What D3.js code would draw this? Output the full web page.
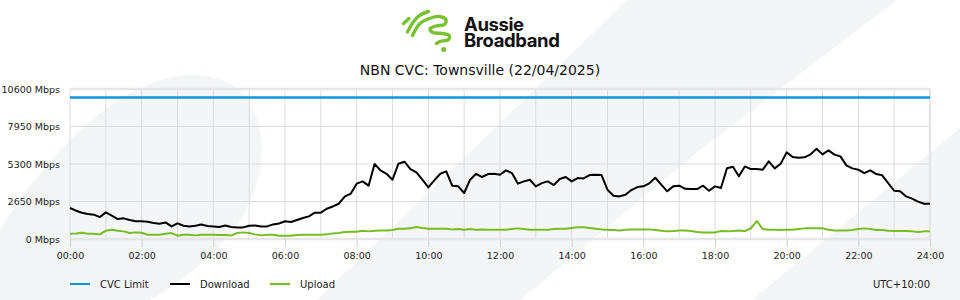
<!DOCTYPE html>
<html>
<head>
<meta charset="utf-8">
<script src="https://cdn.jsdelivr.net/npm/d3@7"></script>
<style>
  body { margin: 0; background: #fff; }
  svg { display: block; font-family: "DejaVu Sans", sans-serif; }
</style>
</head>
<body>
<svg id="chart"></svg>
<script>
// chart values (one point every 10 minutes, 00:00 -> 24:00)
const chartTitle = "NBN CVC: Townsville (22/04/2025)";
const brandLines = ["Aussie", "Broadband"];
const timezoneLabel = "UTC+10:00";
const stepMinutes = 10;
const cvcLimit = 10000;

const download = [
  2190, 2000, 1860, 1760, 1720, 1550, 1880, 1650, 1410, 1460, 1340, 1250, 1250, 1220, 1130, 1080, 1170, 890, 1100, 940,
  890, 940, 1030, 920, 890, 850, 960, 850, 820, 820, 940, 960, 890, 890, 1030, 1100, 1250, 1200, 1340, 1480,
  1600, 1860, 1860, 2140, 2300, 2490, 2990, 3200, 3910, 4070, 3770, 5300, 4850, 4610, 4190, 5320, 5460, 4940, 4710, 4190,
  3650, 4140, 4610, 4780, 3770, 3720, 3250, 4190, 4610, 4380, 4590, 4610, 4540, 4850, 4660, 3910, 4070, 4190, 3720, 3950,
  4070, 3810, 4240, 4380, 4070, 4310, 4280, 4520, 4540, 4520, 3480, 3060, 3010, 3130, 3460, 3670, 3720, 3930, 4330, 3840,
  3370, 3720, 3770, 3550, 3530, 3530, 3770, 3410, 3720, 3600, 5000, 5100, 4430, 5130, 4940, 4940, 4900, 5490, 4990, 5320,
  6120, 5790, 5750, 5770, 5980, 6380, 5980, 6260, 5960, 5840, 5200, 4990, 4900, 4660, 4850, 4590, 4500, 3950, 3410, 3370,
  3010, 2850, 2640, 2490, 2490
];

const upload = [
  374, 397, 445, 374, 374, 327, 586, 657, 586, 539, 421, 468, 445, 303, 303, 303, 374, 421, 233, 303,
  303, 256, 303, 303, 303, 280, 280, 256, 421, 468, 421, 327, 256, 303, 303, 233, 233, 233, 280, 303,
  303, 303, 303, 327, 397, 421, 492, 515, 515, 586, 539, 586, 609, 609, 633, 727, 727, 751, 845, 775,
  727, 727, 727, 727, 680, 704, 657, 704, 657, 680, 657, 657, 657, 657, 704, 751, 704, 657, 657, 657,
  657, 704, 727, 727, 775, 822, 822, 775, 727, 680, 657, 633, 609, 657, 680, 680, 680, 680, 633, 586,
  539, 562, 609, 609, 562, 492, 468, 468, 468, 562, 539, 562, 609, 562, 760, 1270, 700, 657, 657, 633,
  657, 657, 704, 751, 751, 751, 751, 657, 609, 609, 609, 633, 704, 751, 704, 633, 633, 586, 562, 562,
  562, 539, 492, 539, 539
];

const yTicks = [0, 2650, 5300, 7950, 10600];
const xTickHours = [0, 2, 4, 6, 8, 10, 12, 14, 16, 18, 20, 22, 24];
const xTickLabels = ["00:00", "02:00", "04:00", "06:00", "08:00", "10:00", "12:00",
                     "14:00", "16:00", "18:00", "20:00", "22:00", "24:00"];
const seriesNames = ["CVC Limit", "Download", "Upload"];
const seriesColors = ["#0a97d9", "#000000", "#78bc24"];

class CvcChart {
  constructor(_config) {
    this.config = {
      parentElement: _config.parentElement,
      containerWidth: _config.containerWidth || 960,
      containerHeight: _config.containerHeight || 300,
      margin: _config.margin || {top: 89, right: 30, bottom: 61, left: 70}
    };
    this.initVis();
  }

  initVis() {
    let vis = this;
    vis.width = vis.config.containerWidth - vis.config.margin.left - vis.config.margin.right;
    vis.height = vis.config.containerHeight - vis.config.margin.top - vis.config.margin.bottom;

    vis.svg = d3.select(vis.config.parentElement)
        .attr('width', vis.config.containerWidth)
        .attr('height', vis.config.containerHeight);

    vis.xScale = d3.scaleLinear()
        .domain([0, 24 * 60])
        .range([0, vis.width]);

    vis.yScale = d3.scaleLinear()
        .domain([0, d3.max(yTicks)])
        .range([vis.height, 0]);

    vis.drawBackground();
    vis.drawHeader();

    vis.chart = vis.svg.append('g')
        .attr('transform', `translate(${vis.config.margin.left},${vis.config.margin.top})`);

    vis.updateVis();
  }

  drawBackground() {
    let vis = this;
    // faint brand shapes behind everything
    const bg = vis.svg.append('g').attr('fill', '#f4f5f7');
    bg.append('path')
        .attr('d', 'M0,230 C30,180 110,75 193,75 C252,75 268,125 260,170 C250,225 205,268 150,300 L0,300 Z');
    bg.append('path')
        .attr('d', 'M627,0 L897,0 L700,150 L520,300 L317,300 Z');
    bg.append('path')
        .attr('d', 'M960,128 L960,300 L752,300 Z');
  }

  drawHeader() {
    let vis = this;
    const logo = vis.svg.append('g');
    const strokes = [
      [[403.5, 23.5], [409, 18.5]],
      [[407.5, 32], [414, 21], [421, 14.5], [428.5, 11.5]],
      [[412.5, 35.5], [420, 23.5], [429.5, 18.5], [439.5, 16.5], [446, 20], [444.5, 24.5],
       [436, 26], [430, 29], [433, 32.5], [442.5, 33.5], [449, 35.5], [448.5, 39.5], [440, 41.5], [436.5, 43.5]]
    ];
    const squiggle = d3.line().curve(d3.curveCatmullRom.alpha(0.5));
    logo.selectAll('.mark')
        .data(strokes)
      .join('path')
        .attr('class', 'mark')
        .attr('d', squiggle)
        .attr('fill', 'none')
        .attr('stroke', '#78c232')
        .attr('stroke-width', 3.4)
        .attr('stroke-linecap', 'round')
        .attr('stroke-linejoin', 'round');
    logo.append('circle')
        .attr('cx', 443.7).attr('cy', 49.5).attr('r', 2.5)
        .attr('fill', '#78c232');

    logo.selectAll('.brand')
        .data(brandLines)
      .join('text')
        .attr('class', 'brand')
        .attr('x', 464)
        .attr('y', (d, i) => 31 + i * 16)
        .style('font-family', 'Inter, "Liberation Sans", sans-serif')
        .style('font-weight', 700)
        .style('font-size', '18.5px')
        .style('letter-spacing', '-0.4px')
        .attr('fill', '#111')
        .text(d => d);

    vis.svg.append('text')
        .attr('x', vis.config.containerWidth / 2)
        .attr('y', 75)
        .attr('text-anchor', 'middle')
        .style('font-size', '14px')
        .attr('fill', '#111')
        .text(chartTitle);
  }

  updateVis() {
    let vis = this;
    vis.points = download.map((d, i) => ({
      minute: i * stepMinutes,
      download: d,
      upload: upload[i]
    }));
    vis.renderVis();
  }

  renderVis() {
    let vis = this;

    // grid
    const grid = vis.chart.append('g');
    grid.selectAll('.vgrid')
        .data(d3.range(0, 24 * 60 + 1, 60))
      .join('line')
        .attr('x1', d => vis.xScale(d))
        .attr('x2', d => vis.xScale(d))
        .attr('y1', 0)
        .attr('y2', vis.height)
        .attr('stroke', '#dcdcdc');
    grid.selectAll('.hgrid')
        .data(yTicks)
      .join('line')
        .attr('x1', 0)
        .attr('x2', vis.width)
        .attr('y1', d => vis.yScale(d))
        .attr('y2', d => vis.yScale(d))
        .attr('stroke', d => (d === 0 || d === d3.max(yTicks)) ? '#e6e6e6' : '#dcdcdc')
        .attr('stroke-width', d => (d === 0 || d === d3.max(yTicks)) ? 2.5 : 1);
    grid.append('line')
        .attr('x1', vis.width).attr('x2', vis.width)
        .attr('y1', 0).attr('y2', vis.height)
        .attr('stroke', '#e6e6e6')
        .attr('stroke-width', 2.5);

    // axes
    const yAxis = d3.axisLeft(vis.yScale)
        .tickValues(yTicks)
        .tickSize(0)
        .tickPadding(10)
        .tickFormat(d => `${d} Mbps`);
    vis.chart.append('g')
        .call(yAxis)
        .call(g => g.select('.domain').remove())
        .call(g => g.selectAll('text').attr('fill', '#222').style('font-size', '9.5px').style('font-family', '"DejaVu Sans", sans-serif'));

    const xAxis = d3.axisBottom(vis.xScale)
        .tickValues(xTickHours.map(h => h * 60))
        .tickSize(8)
        .tickPadding(5)
        .tickFormat((d, i) => xTickLabels[i]);
    vis.chart.append('g')
        .attr('transform', `translate(0,${vis.height})`)
        .call(xAxis)
        .call(g => g.select('.domain').remove())
        .call(g => g.selectAll('line').attr('stroke', '#d0d0d0'))
        .call(g => g.selectAll('text').attr('fill', '#222').style('font-size', '9.5px').style('font-family', '"DejaVu Sans", sans-serif'));

    // series
    vis.chart.append('line')
        .attr('x1', vis.xScale(0))
        .attr('x2', vis.xScale(24 * 60))
        .attr('y1', vis.yScale(cvcLimit))
        .attr('y2', vis.yScale(cvcLimit))
        .attr('stroke', seriesColors[0])
        .attr('stroke-width', 2.5);

    const line = key => d3.line()
        .x(d => vis.xScale(d.minute))
        .y(d => vis.yScale(d[key]));

    vis.chart.append('path')
        .datum(vis.points)
        .attr('fill', 'none')
        .attr('stroke', seriesColors[2])
        .attr('stroke-width', 2)
        .attr('stroke-linejoin', 'round')
        .attr('d', line('upload'));

    vis.chart.append('path')
        .datum(vis.points)
        .attr('fill', 'none')
        .attr('stroke', seriesColors[1])
        .attr('stroke-width', 2)
        .attr('stroke-linejoin', 'round')
        .attr('d', line('download'));

    // legend
    const legend = vis.svg.append('g')
        .attr('transform', `translate(${vis.config.margin.left},284)`);
    const item = legend.selectAll('.legend-item')
        .data(seriesNames)
      .join('g')
        .attr('class', 'legend-item')
        .attr('transform', (d, i) => `translate(${i * 100},0)`);
    item.append('line')
        .attr('x1', 0).attr('x2', 20)
        .attr('stroke', (d, i) => seriesColors[i])
        .attr('stroke-width', 2);
    item.append('text')
        .attr('x', 30)
        .attr('dy', '0.35em')
        .style('font-size', '10px')
        .attr('fill', '#222')
        .text(d => d);

    vis.svg.append('text')
        .attr('x', vis.config.margin.left + vis.width)
        .attr('y', 284)
        .attr('dy', '0.35em')
        .attr('text-anchor', 'end')
        .style('font-size', '10px')
        .attr('fill', '#222')
        .text(timezoneLabel);
  }
}

new CvcChart({parentElement: '#chart'});
</script>
</body>
</html>
